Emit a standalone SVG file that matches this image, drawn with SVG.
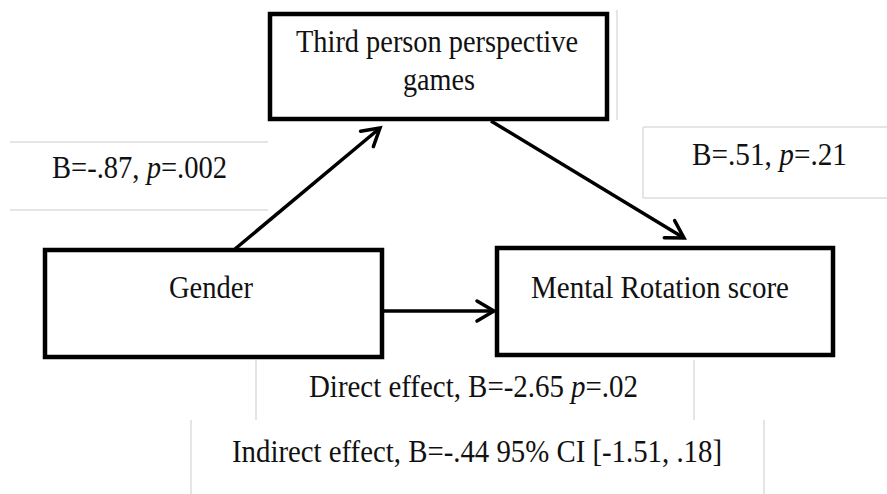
<svg xmlns="http://www.w3.org/2000/svg" width="887" height="494" viewBox="0 0 887 494">
<style>
  .box { fill: #ffffff; stroke: #000000; stroke-width: 4.5; }
  .lbl { font-family: "Liberation Serif", "Times New Roman", serif; font-size: 27px; fill: #111111; }
  .faint { stroke: #dcdcdc; stroke-width: 1.5; fill: none; }
  .conn { stroke: #000000; stroke-width: 3.5; fill: none; marker-end: url(#arrow); }
  .it { font-style: italic; }
</style>
<defs>
  <marker id="arrow" markerUnits="userSpaceOnUse" markerWidth="30" markerHeight="30" refX="0" refY="0" viewBox="-20 -15 25 30" orient="auto">
    <path d="M-17,-10 L0,0 L-17,10" fill="none" stroke="#000000" stroke-width="3.5" stroke-linecap="round" stroke-linejoin="miter"/>
  </marker>
</defs>
<rect x="0" y="0" width="887" height="494" fill="#ffffff"/>

<g id="label-boxes">
  <line class="faint" x1="10" y1="142" x2="268" y2="142"/>
  <line class="faint" x1="10" y1="210" x2="268" y2="210"/>
  <line class="faint" x1="643" y1="127" x2="887" y2="127"/>
  <line class="faint" x1="643" y1="198" x2="887" y2="198"/>
  <line class="faint" x1="643" y1="127" x2="643" y2="198"/>
  <line class="faint" x1="617" y1="10" x2="617" y2="120"/>
  <line class="faint" x1="256" y1="360" x2="256" y2="420"/>
  <line class="faint" x1="694" y1="360" x2="694" y2="420"/>
  <line class="faint" x1="191" y1="420" x2="191" y2="494"/>
  <line class="faint" x1="764" y1="420" x2="764" y2="494"/>
</g>

<g id="connectors">
  <line class="conn" x1="235" y1="249" x2="380" y2="128"/>
  <line class="conn" x1="491" y1="121" x2="684" y2="238"/>
  <line class="conn" x1="382" y1="311" x2="494" y2="311"/>
</g>

<g id="node-third">
  <rect class="box" x="270" y="14" width="337" height="105"/>
  <text class="lbl" transform="translate(296,52) scale(1,1.18)" textLength="282" lengthAdjust="spacingAndGlyphs">Third person perspective</text>
  <text class="lbl" transform="translate(403,90) scale(1,1.18)" textLength="72" lengthAdjust="spacingAndGlyphs">games</text>
</g>

<g id="node-gender">
  <rect class="box" x="45" y="250" width="337" height="107"/>
  <text class="lbl" transform="translate(169,298) scale(1,1.18)" textLength="84" lengthAdjust="spacingAndGlyphs">Gender</text>
</g>

<g id="node-mental">
  <rect class="box" x="497" y="248" width="336" height="107"/>
  <text class="lbl" transform="translate(531,298) scale(1,1.18)" textLength="258" lengthAdjust="spacingAndGlyphs">Mental Rotation score</text>
</g>

<g id="label-a">
  <text class="lbl" transform="translate(52,178) scale(1,1.18)" textLength="175" lengthAdjust="spacingAndGlyphs">B=-.87, <tspan class="it">p</tspan>=.002</text>
</g>
<g id="label-b">
  <text class="lbl" transform="translate(692,165) scale(1,1.18)" textLength="155" lengthAdjust="spacingAndGlyphs">B=.51, <tspan class="it">p</tspan>=.21</text>
</g>
<g id="label-direct">
  <text class="lbl" transform="translate(309,397) scale(1,1.18)" textLength="329" lengthAdjust="spacingAndGlyphs">Direct effect, B=-2.65 <tspan class="it">p</tspan>=.02</text>
</g>
<g id="label-indirect">
  <text class="lbl" transform="translate(232,462) scale(1,1.18)" textLength="490" lengthAdjust="spacingAndGlyphs">Indirect effect, B=-.44 95% CI [-1.51, .18]</text>
</g>
</svg>
